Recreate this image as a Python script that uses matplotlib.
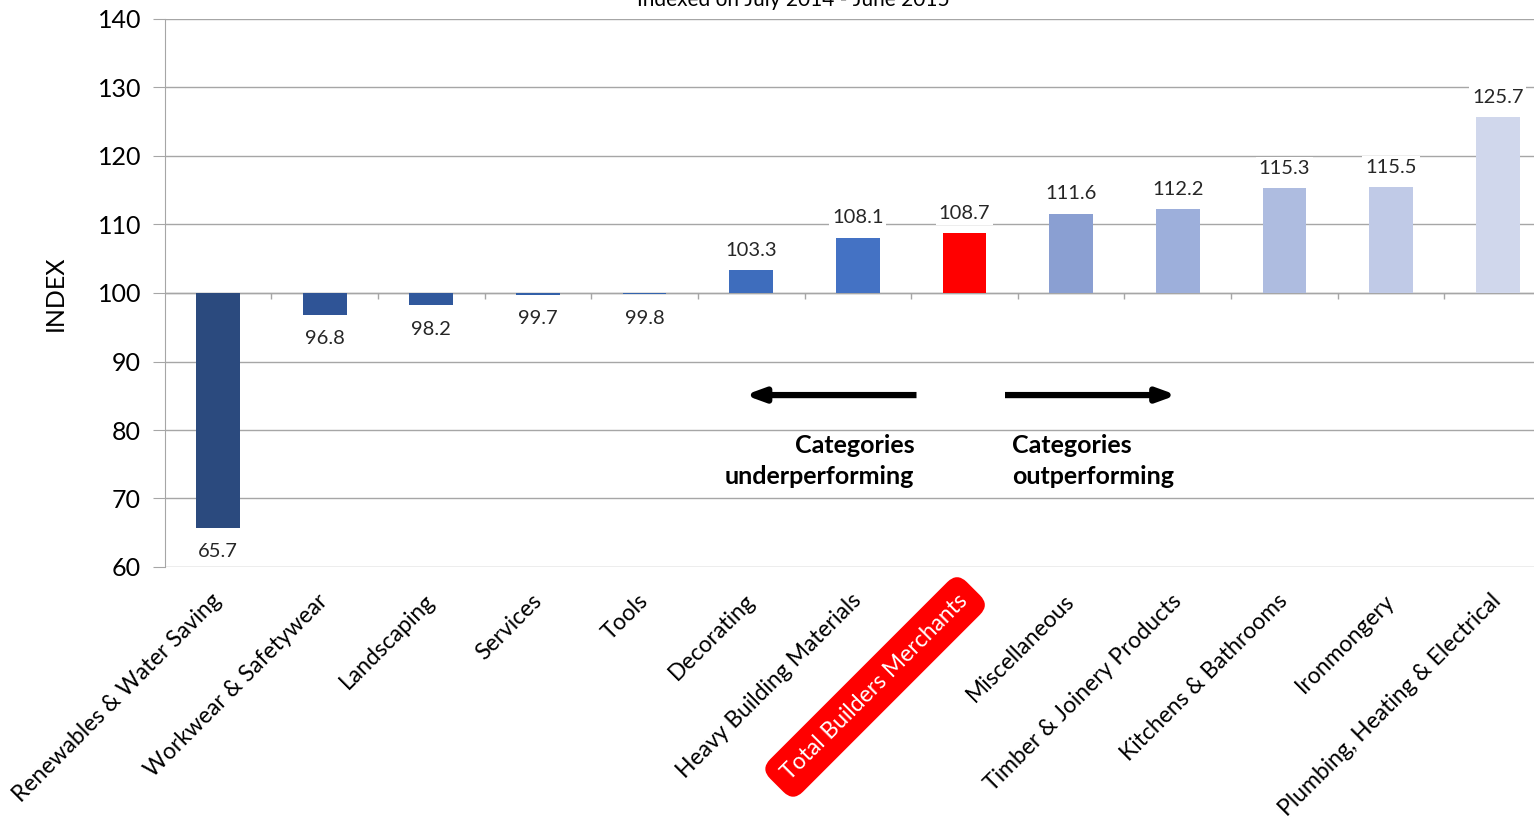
import matplotlib
matplotlib.use("Agg")
from matplotlib import pyplot as plt
import numpy as np

plt.rcParams['font.family'] = ['Lato', 'DejaVu Sans']

categories = ["Renewables & Water Saving", "Workwear & Safetywear", "Landscaping",
              "Services", "Tools", "Decorating", "Heavy Building Materials",
              "Total Builders Merchants", "Miscellaneous", "Timber & Joinery Products",
              "Kitchens & Bathrooms", "Ironmongery", "Plumbing, Heating & Electrical"]
values = [65.7, 96.8, 98.2, 99.7, 99.8, 103.3, 108.1, 108.7, 111.6, 112.2, 115.3, 115.5, 125.7]
colors = ["#2B4A7E", "#2F5496", "#30589C", "#3260A8", "#3464AE", "#3E6DBD", "#4472C4",
          "#FF0000", "#8A9FD2", "#9DAFDB", "#AEBCE0", "#C0CAE7", "#D0D7EC"]
baseline = 100
highlight = "Total Builders Merchants"

grid_col = "#A6A6A6"

fig = plt.figure(figsize=(15.34, 8.19), dpi=100)
# plot area runs a little past the right edge of the canvas
ax = fig.add_axes([164.7 / 1534, 1 - 567 / 819, (1551 - 164.7) / 1534, (567 - 19) / 819])

x = np.arange(len(categories))
heights = [v - baseline for v in values]
ax.bar(x, heights, bottom=baseline, width=0.41, color=colors, zorder=3)

ax.set_ylim(60, 140)
ax.set_xlim(-0.5, len(categories) - 0.5)
ax.set_yticks(np.arange(60, 141, 10))
ax.yaxis.grid(True, color=grid_col, linewidth=1)
ax.set_axisbelow(True)
ax.tick_params(axis='y', length=9, color=grid_col, labelsize=18, pad=8)

for s in ['top', 'right', 'bottom']:
    ax.spines[s].set_visible(False)
ax.spines['left'].set_color(grid_col)

# category axis crossing at the index base, with small ticks between bars
ax.axhline(baseline, color=grid_col, linewidth=1, zorder=2)
ax.vlines(x[:-1] + 0.5, baseline - 0.9, baseline, color=grid_col, linewidth=1, zorder=2)

ax.set_xticks(x)
ax.set_xticklabels(categories, rotation=45, ha='right', va='center',
                   rotation_mode='anchor', fontsize=16.5)
ax.tick_params(axis='x', length=0, pad=22)
for lbl in ax.get_xticklabels():
    if lbl.get_text() == highlight:
        lbl.set_color('white')
        lbl.set_bbox(dict(boxstyle='round,pad=0.55,rounding_size=0.6',
                          fc='#FF0000', ec='none'))

ax.set_ylabel("INDEX", fontsize=18, labelpad=22)

# value labels
for xi, v in zip(x, values):
    if v >= baseline:
        ax.annotate(f"{v:.1f}", (xi, v), xytext=(0, 8), textcoords='offset points',
                    ha='center', va='bottom', fontsize=14.5, color='#262626', zorder=4,
                    bbox=dict(fc='white', ec='none', pad=2))
    else:
        ax.annotate(f"{v:.1f}", (xi, v), xytext=(0, -11), textcoords='offset points',
                    ha='center', va='top', fontsize=14.5, color='#262626', zorder=4,
                    bbox=dict(fc='white', ec='none', pad=2))

# direction arrows and notes
arrow_y = 85.1
arrow_style = dict(arrowstyle='-|>,head_length=1.1,head_width=0.4',
                   color='black', lw=4.5, shrinkA=0, shrinkB=0, capstyle='butt')
ax.annotate("", xy=(4.94, arrow_y), xytext=(6.55, arrow_y), arrowprops=arrow_style)
ax.annotate("", xy=(8.99, arrow_y), xytext=(7.38, arrow_y), arrowprops=arrow_style)
ax.text(6.53, 75.5, "Categories\nunderperforming", ha='right', va='center',
        fontsize=18, fontweight='bold', linespacing=1.4)
ax.text(7.45, 75.5, "Categories\noutperforming", ha='left', va='center',
        fontsize=18, fontweight='bold', linespacing=1.4)

fig.text(0.517, 1 - 6 / 819, "Indexed on July 2014 - June 2015", ha='center',
         va='baseline', fontsize=15)

fig.savefig("out.png", dpi=100)
